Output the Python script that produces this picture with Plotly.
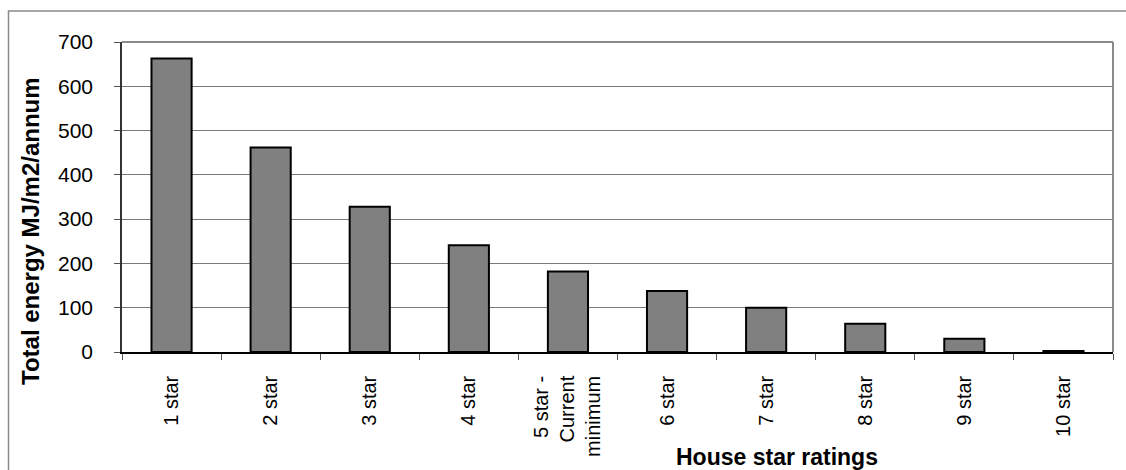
import plotly.graph_objects as go

categories = ["1 star", "2 star", "3 star", "4 star", "5 star -<br>Current<br>minimum",
              "6 star", "7 star", "8 star", "9 star", "10 star"]
energy = [663, 462, 328, 241, 182, 138, 100, 64, 30, 2]
y_ticks = [0, 100, 200, 300, 400, 500, 600, 700]

W, H = 1126, 470
L, R, T, B = 122, 1113, 42, 352


def px(x):
    return (x - L) / (R - L)


def py(y):
    return (B - y) / (B - T)


fig = go.Figure()
fig.add_trace(go.Bar(
    x=categories, y=energy,
    marker=dict(color="#808080", line=dict(color="#000000", width=2)),
))

font = "Liberation Sans, Arial, sans-serif"
fig.update_layout(
    width=W, height=H,
    margin=dict(l=L, r=W - R, t=T, b=H - B, pad=0),
    paper_bgcolor="white", plot_bgcolor="white",
    bargap=0.595,
    showlegend=False,
    font=dict(family=font, color="black"),
    xaxis=dict(
        type="category", tickson="boundaries",
        ticks="outside", ticklen=6, tickcolor="#555", tickwidth=1,
        showline=True, linecolor="#000", linewidth=1.5,
        showgrid=False, tickangle=-90,
        tickfont=dict(size=20, family=font),
        ticklabelstandoff=14,
    ),
    yaxis=dict(
        range=[0, 700], tickvals=y_ticks,
        ticks="outside", ticklen=6, tickcolor="#555", tickwidth=1,
        showline=True, linecolor="#333", linewidth=1.5,
        showgrid=True, gridcolor="#7a7a7a", gridwidth=1,
        zeroline=False,
        tickfont=dict(size=21, family=font),
        ticklabelstandoff=17,
    ),
    shapes=[
        dict(type="rect", xref="paper", yref="paper",
             x0=px(8.5), x1=px(1140), y0=py(11), y1=py(490),
             line=dict(color="#8a8a8a", width=1.5), layer="below"),
        dict(type="line", xref="paper", yref="paper",
             x0=0, x1=1, y0=1, y1=1, line=dict(color="#8a8a8a", width=2)),
        dict(type="line", xref="paper", yref="paper",
             x0=1, x1=1, y0=0, y1=1, line=dict(color="#8a8a8a", width=2)),
    ],
    annotations=[
        dict(text="<b>Total energy MJ/m2/annum</b>", xref="paper", yref="paper",
             x=px(31), y=py(231), textangle=-90, showarrow=False,
             xanchor="center", yanchor="middle",
             font=dict(size=24, family=font, color="black")),
        dict(text="<b>House star ratings</b>", xref="paper", yref="paper",
             x=px(777), y=py(457), showarrow=False,
             xanchor="center", yanchor="middle",
             font=dict(size=23, family=font, color="black")),
    ],
)

fig.write_html("out.html")
